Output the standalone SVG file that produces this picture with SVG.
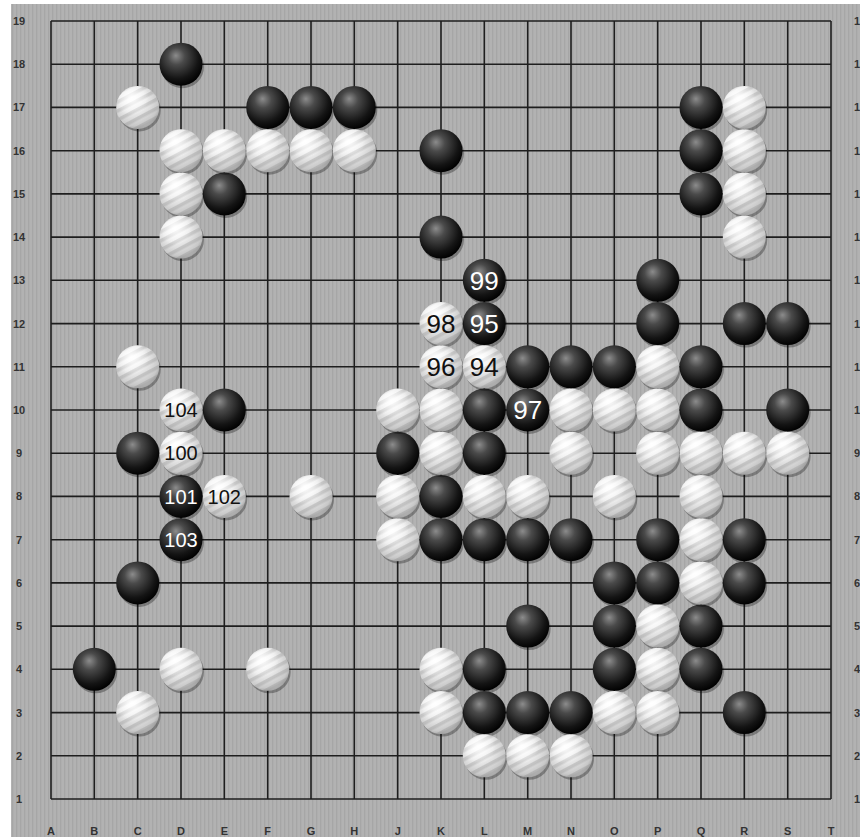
<svg xmlns="http://www.w3.org/2000/svg" xmlns:xlink="http://www.w3.org/1999/xlink" width="860" height="837" viewBox="0 0 860 837">
<style>
.grid line{stroke:#1e1e1e;stroke-width:1.6}
.lab{font-family:"Liberation Sans",Arial,sans-serif;font-size:11px;font-weight:bold;fill:#333}
.lc{text-anchor:middle}
.n2{font-family:"Liberation Sans",Arial,sans-serif;font-size:26px;text-anchor:middle}
.n3{font-family:"Liberation Sans",Arial,sans-serif;font-size:20px;text-anchor:middle}
.onb{fill:#fff}
.onw{fill:#111}
</style>
<defs>
<pattern id="bg" patternUnits="userSpaceOnUse" width="4" height="8">
<rect width="4" height="8" fill="#b2b2b2"/>
<rect width="1.3" height="8" fill="#a6a6a6"/>
</pattern>
<pattern id="st" patternUnits="userSpaceOnUse" width="8" height="8" patternTransform="rotate(-28)">
<rect width="8" height="3.5" fill="#8a8a8a" opacity="0.3"/>
</pattern>
<radialGradient id="gb" cx="0.42" cy="0.36" r="0.66" fx="0.38" fy="0.3">
<stop offset="0" stop-color="#8c8c8c"/>
<stop offset="0.3" stop-color="#4a4a4a"/>
<stop offset="0.75" stop-color="#141414"/>
<stop offset="1" stop-color="#000"/>
</radialGradient>
<radialGradient id="gw" cx="0.42" cy="0.36" r="0.68" fx="0.36" fy="0.28">
<stop offset="0" stop-color="#ffffff"/>
<stop offset="0.45" stop-color="#ececec"/>
<stop offset="0.85" stop-color="#c8c8c8"/>
<stop offset="1" stop-color="#9c9c9c"/>
</radialGradient>
<radialGradient id="hw" cx="0.36" cy="0.28" r="0.4">
<stop offset="0" stop-color="#fff" stop-opacity="0.95"/>
<stop offset="1" stop-color="#fff" stop-opacity="0"/>
</radialGradient>
<g id="b"><circle cx="1.5" cy="2.5" r="21.5" fill="#000" opacity="0.3"/><circle r="21.5" fill="url(#gb)"/></g>
<g id="w"><circle cx="1.5" cy="2.5" r="21.5" fill="#000" opacity="0.3"/><circle r="21.5" fill="url(#gw)"/><circle r="21.5" fill="url(#st)"/><circle r="21.5" fill="url(#hw)"/></g>
</defs>
<rect width="860" height="837" fill="#fff"/>
<rect x="11" y="4" width="849" height="833" fill="url(#bg)"/>
<g id="grid" class="grid">
<line x1="51" y1="21" x2="51" y2="799"/><line x1="94.3" y1="21" x2="94.3" y2="799"/><line x1="137.7" y1="21" x2="137.7" y2="799"/><line x1="181" y1="21" x2="181" y2="799"/><line x1="224.3" y1="21" x2="224.3" y2="799"/><line x1="267.7" y1="21" x2="267.7" y2="799"/><line x1="311" y1="21" x2="311" y2="799"/><line x1="354.3" y1="21" x2="354.3" y2="799"/><line x1="397.7" y1="21" x2="397.7" y2="799"/><line x1="441" y1="21" x2="441" y2="799"/><line x1="484.3" y1="21" x2="484.3" y2="799"/><line x1="527.7" y1="21" x2="527.7" y2="799"/><line x1="571" y1="21" x2="571" y2="799"/><line x1="614.3" y1="21" x2="614.3" y2="799"/><line x1="657.7" y1="21" x2="657.7" y2="799"/><line x1="701" y1="21" x2="701" y2="799"/><line x1="744.3" y1="21" x2="744.3" y2="799"/><line x1="787.7" y1="21" x2="787.7" y2="799"/><line x1="831" y1="21" x2="831" y2="799"/>
<line x1="51" y1="21" x2="831" y2="21"/><line x1="51" y1="64.2" x2="831" y2="64.2"/><line x1="51" y1="107.4" x2="831" y2="107.4"/><line x1="51" y1="150.7" x2="831" y2="150.7"/><line x1="51" y1="193.9" x2="831" y2="193.9"/><line x1="51" y1="237.1" x2="831" y2="237.1"/><line x1="51" y1="280.3" x2="831" y2="280.3"/><line x1="51" y1="323.6" x2="831" y2="323.6"/><line x1="51" y1="366.8" x2="831" y2="366.8"/><line x1="51" y1="410" x2="831" y2="410"/><line x1="51" y1="453.2" x2="831" y2="453.2"/><line x1="51" y1="496.4" x2="831" y2="496.4"/><line x1="51" y1="539.7" x2="831" y2="539.7"/><line x1="51" y1="582.9" x2="831" y2="582.9"/><line x1="51" y1="626.1" x2="831" y2="626.1"/><line x1="51" y1="669.3" x2="831" y2="669.3"/><line x1="51" y1="712.6" x2="831" y2="712.6"/><line x1="51" y1="755.8" x2="831" y2="755.8"/><line x1="51" y1="799" x2="831" y2="799"/>
</g>
<g id="labels" class="lab">
<g class="lc">
<text x="19" y="25">19</text><text x="19" y="68.2">18</text><text x="19" y="111.4">17</text><text x="19" y="154.7">16</text><text x="19" y="197.9">15</text><text x="19" y="241.1">14</text><text x="19" y="284.3">13</text><text x="19" y="327.6">12</text><text x="19" y="370.8">11</text><text x="19" y="414">10</text><text x="19" y="457.2">9</text><text x="19" y="500.4">8</text><text x="19" y="543.7">7</text><text x="19" y="586.9">6</text><text x="19" y="630.1">5</text><text x="19" y="673.3">4</text><text x="19" y="716.6">3</text><text x="19" y="759.8">2</text><text x="19" y="803">1</text>
<text x="51" y="835">A</text><text x="94.3" y="835">B</text><text x="137.7" y="835">C</text><text x="181" y="835">D</text><text x="224.3" y="835">E</text><text x="267.7" y="835">F</text><text x="311" y="835">G</text><text x="354.3" y="835">H</text><text x="397.7" y="835">J</text><text x="441" y="835">K</text><text x="484.3" y="835">L</text><text x="527.7" y="835">M</text><text x="571" y="835">N</text><text x="614.3" y="835">O</text><text x="657.7" y="835">P</text><text x="701" y="835">Q</text><text x="744.3" y="835">R</text><text x="787.7" y="835">S</text><text x="831" y="835">T</text>
</g>
<text x="854" y="25">19</text><text x="854" y="68.2">18</text><text x="854" y="111.4">17</text><text x="854" y="154.7">16</text><text x="854" y="197.9">15</text><text x="854" y="241.1">14</text><text x="854" y="284.3">13</text><text x="854" y="327.6">12</text><text x="854" y="370.8">11</text><text x="854" y="414">10</text><text x="854" y="457.2">9</text><text x="854" y="500.4">8</text><text x="854" y="543.7">7</text><text x="854" y="586.9">6</text><text x="854" y="630.1">5</text><text x="854" y="673.3">4</text><text x="854" y="716.6">3</text><text x="854" y="759.8">2</text><text x="854" y="803">1</text>
</g>
<g id="black-stones">
<use href="#b" x="181" y="64.2"/>
<use href="#b" x="267.7" y="107.4"/><use href="#b" x="311" y="107.4"/><use href="#b" x="354.3" y="107.4"/><use href="#b" x="701" y="107.4"/>
<use href="#b" x="441" y="150.7"/><use href="#b" x="701" y="150.7"/>
<use href="#b" x="224.3" y="193.9"/><use href="#b" x="701" y="193.9"/>
<use href="#b" x="441" y="237.1"/>
<use href="#b" x="484.3" y="280.3"/><use href="#b" x="657.7" y="280.3"/>
<use href="#b" x="484.3" y="323.6"/><use href="#b" x="657.7" y="323.6"/><use href="#b" x="744.3" y="323.6"/><use href="#b" x="787.7" y="323.6"/>
<use href="#b" x="527.7" y="366.8"/><use href="#b" x="571" y="366.8"/><use href="#b" x="614.3" y="366.8"/><use href="#b" x="701" y="366.8"/>
<use href="#b" x="224.3" y="410"/><use href="#b" x="484.3" y="410"/><use href="#b" x="527.7" y="410"/><use href="#b" x="701" y="410"/><use href="#b" x="787.7" y="410"/>
<use href="#b" x="137.7" y="453.2"/><use href="#b" x="397.7" y="453.2"/><use href="#b" x="484.3" y="453.2"/>
<use href="#b" x="181" y="496.4"/><use href="#b" x="441" y="496.4"/>
<use href="#b" x="181" y="539.7"/><use href="#b" x="441" y="539.7"/><use href="#b" x="484.3" y="539.7"/><use href="#b" x="527.7" y="539.7"/><use href="#b" x="571" y="539.7"/><use href="#b" x="657.7" y="539.7"/><use href="#b" x="744.3" y="539.7"/>
<use href="#b" x="137.7" y="582.9"/><use href="#b" x="614.3" y="582.9"/><use href="#b" x="657.7" y="582.9"/><use href="#b" x="744.3" y="582.9"/>
<use href="#b" x="527.7" y="626.1"/><use href="#b" x="614.3" y="626.1"/><use href="#b" x="701" y="626.1"/>
<use href="#b" x="94.3" y="669.3"/><use href="#b" x="484.3" y="669.3"/><use href="#b" x="614.3" y="669.3"/><use href="#b" x="701" y="669.3"/>
<use href="#b" x="484.3" y="712.6"/><use href="#b" x="527.7" y="712.6"/><use href="#b" x="571" y="712.6"/><use href="#b" x="744.3" y="712.6"/>
</g>
<g id="white-stones">
<use href="#w" x="137.7" y="107.4"/><use href="#w" x="744.3" y="107.4"/>
<use href="#w" x="181" y="150.7"/><use href="#w" x="224.3" y="150.7"/><use href="#w" x="267.7" y="150.7"/><use href="#w" x="311" y="150.7"/><use href="#w" x="354.3" y="150.7"/><use href="#w" x="744.3" y="150.7"/>
<use href="#w" x="181" y="193.9"/><use href="#w" x="744.3" y="193.9"/>
<use href="#w" x="181" y="237.1"/><use href="#w" x="744.3" y="237.1"/>
<use href="#w" x="441" y="323.6"/>
<use href="#w" x="137.7" y="366.8"/><use href="#w" x="441" y="366.8"/><use href="#w" x="484.3" y="366.8"/><use href="#w" x="657.7" y="366.8"/>
<use href="#w" x="181" y="410"/><use href="#w" x="397.7" y="410"/><use href="#w" x="441" y="410"/><use href="#w" x="571" y="410"/><use href="#w" x="614.3" y="410"/><use href="#w" x="657.7" y="410"/>
<use href="#w" x="181" y="453.2"/><use href="#w" x="441" y="453.2"/><use href="#w" x="571" y="453.2"/><use href="#w" x="657.7" y="453.2"/><use href="#w" x="701" y="453.2"/><use href="#w" x="744.3" y="453.2"/><use href="#w" x="787.7" y="453.2"/>
<use href="#w" x="224.3" y="496.4"/><use href="#w" x="311" y="496.4"/><use href="#w" x="397.7" y="496.4"/><use href="#w" x="484.3" y="496.4"/><use href="#w" x="527.7" y="496.4"/><use href="#w" x="614.3" y="496.4"/><use href="#w" x="701" y="496.4"/>
<use href="#w" x="397.7" y="539.7"/><use href="#w" x="701" y="539.7"/>
<use href="#w" x="701" y="582.9"/>
<use href="#w" x="657.7" y="626.1"/>
<use href="#w" x="181" y="669.3"/><use href="#w" x="267.7" y="669.3"/><use href="#w" x="441" y="669.3"/><use href="#w" x="657.7" y="669.3"/>
<use href="#w" x="137.7" y="712.6"/><use href="#w" x="441" y="712.6"/><use href="#w" x="614.3" y="712.6"/><use href="#w" x="657.7" y="712.6"/>
<use href="#w" x="484.3" y="755.8"/><use href="#w" x="527.7" y="755.8"/><use href="#w" x="571" y="755.8"/>
</g>
<g id="move-numbers">
<text class="n2 onw" x="484.3" y="376">94</text>
<text class="n2 onb" x="484.3" y="332.8">95</text>
<text class="n2 onw" x="441" y="376">96</text>
<text class="n2 onb" x="527.7" y="419.2">97</text>
<text class="n2 onw" x="441" y="332.8">98</text>
<text class="n2 onb" x="484.3" y="289.5">99</text>
<text class="n3 onw" x="181" y="460.4">100</text>
<text class="n3 onb" x="181" y="503.6">101</text>
<text class="n3 onw" x="224.3" y="503.6">102</text>
<text class="n3 onb" x="181" y="546.9">103</text>
<text class="n3 onw" x="181" y="417.2">104</text>
</g>
</svg>
